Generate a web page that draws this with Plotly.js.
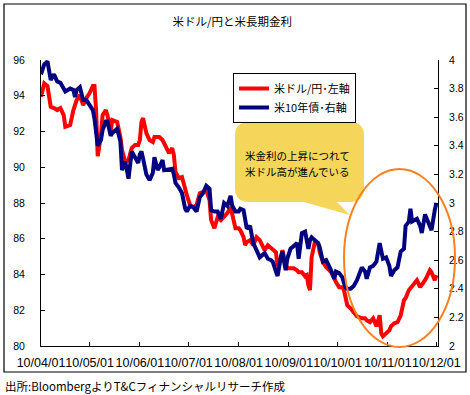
<!DOCTYPE html>
<html>
<head>
<meta charset="utf-8">
<script src="https://cdn.plot.ly/plotly-3.0.1.min.js"></script>
<style>
html,body{margin:0;padding:0;background:#fff;}
#chart{width:470px;height:395px;}
</style>
</head>
<body>
<div id="chart"></div>
<script>
// ---- data ----
const dates = [
 "2010-04-01","2010-04-03","2010-04-05","2010-04-07","2010-04-09","2010-04-11","2010-04-13","2010-04-15","2010-04-16","2010-04-19",
 "2010-04-21","2010-04-22","2010-04-23","2010-04-25","2010-04-27","2010-04-29","2010-05-01","2010-05-03","2010-05-04","2010-05-05",
 "2010-05-06","2010-05-08","2010-05-09","2010-05-11","2010-05-12","2010-05-14","2010-05-15","2010-05-18","2010-05-20","2010-05-21",
 "2010-05-23","2010-05-25","2010-05-27","2010-05-29","2010-05-31","2010-06-01","2010-06-02","2010-06-03","2010-06-05","2010-06-07",
 "2010-06-09","2010-06-10","2010-06-12","2010-06-13","2010-06-15","2010-06-16","2010-06-19","2010-06-21","2010-06-22","2010-06-23",
 "2010-06-25","2010-06-27","2010-06-29","2010-06-30","2010-07-02","2010-07-04","2010-07-06","2010-07-08","2010-07-10","2010-07-12",
 "2010-07-14","2010-07-15","2010-07-17","2010-07-19","2010-07-21","2010-07-23","2010-07-25","2010-07-27","2010-07-28","2010-07-30",
 "2010-08-01","2010-08-02","2010-08-04","2010-08-05","2010-08-06","2010-08-08","2010-08-10","2010-08-12","2010-08-14","2010-08-17",
 "2010-08-19","2010-08-21","2010-08-22","2010-08-24","2010-08-25","2010-08-27","2010-08-28","2010-08-29","2010-08-30","2010-08-31",
 "2010-09-02","2010-09-04","2010-09-06","2010-09-07","2010-09-08","2010-09-09","2010-09-11","2010-09-12","2010-09-13","2010-09-14",
 "2010-09-15","2010-09-17","2010-09-19","2010-09-20","2010-09-22","2010-09-24","2010-09-26","2010-09-27","2010-09-29","2010-09-30",
 "2010-10-02","2010-10-04","2010-10-05","2010-10-06","2010-10-07","2010-10-09","2010-10-11","2010-10-13","2010-10-16","2010-10-18",
 "2010-10-19","2010-10-21","2010-10-23","2010-10-25","2010-10-27","2010-10-28","2010-10-29","2010-10-31","2010-11-02","2010-11-03",
 "2010-11-05","2010-11-07","2010-11-09","2010-11-11","2010-11-12","2010-11-14","2010-11-15","2010-11-16","2010-11-19","2010-11-21",
 "2010-11-22","2010-11-24","2010-11-25","2010-11-27","2010-11-28","2010-11-30","2010-12-01"
];
const usdjpy = [
 93.94,94.69,94.54,93.38,93.31,93.20,93.31,92.92,92.26,92.36,
 93.20,93.48,93.76,94.04,93.48,93.87,94.15,94.54,94.54,93.20,
 90.62,91.80,92.92,93.20,92.92,92.02,92.64,92.53,91.69,90.96,
 90.30,90.40,91.07,91.24,91.24,91.52,92.53,92.75,91.91,91.52,
 91.41,91.69,91.69,91.69,91.52,91.35,90.79,91.07,90.68,89.74,
 89.39,89.45,88.72,88.44,87.88,87.77,87.88,88.55,88.62,88.72,
 88.16,87.04,86.59,87.21,87.04,87.21,87.43,87.77,87.32,86.59,
 86.59,86.48,86.09,85.64,85.81,85.92,85.64,86.09,85.92,85.36,
 85.64,85.47,85.36,85.25,84.46,84.91,85.36,84.80,84.57,84.35,
 84.35,84.35,84.24,84.13,84.13,84.13,83.90,83.96,83.40,83.12,
 84.97,85.81,85.75,85.25,84.69,84.41,84.24,84.13,83.79,83.57,
 83.29,83.29,83.12,82.67,82.28,82.11,81.89,81.66,81.55,81.55,
 81.44,81.33,81.55,81.10,81.72,80.71,80.54,80.71,80.88,81.10,
 81.27,81.33,81.72,82.56,82.67,83.12,83.23,83.40,83.68,83.29,
 83.40,83.68,83.85,84.24,84.13,83.68,83.96
];
const us10y = [
 3.90,3.97,3.99,3.86,3.90,3.85,3.84,3.79,3.78,3.80,
 3.79,3.74,3.79,3.81,3.72,3.72,3.69,3.65,3.59,3.47,
 3.40,3.44,3.51,3.57,3.57,3.47,3.49,3.52,3.43,3.23,
 3.29,3.17,3.36,3.32,3.28,3.34,3.36,3.31,3.20,3.16,
 3.21,3.32,3.23,3.25,3.30,3.23,3.24,3.24,3.20,3.14,
 3.11,3.07,2.96,2.94,2.98,2.97,2.94,3.04,3.07,3.12,
 3.10,2.95,2.94,2.94,2.89,3.00,2.98,3.05,2.98,2.94,
 2.94,2.96,2.95,2.90,2.82,2.84,2.72,2.67,2.62,2.65,
 2.61,2.60,2.59,2.52,2.49,2.62,2.66,2.59,2.53,2.61,
 2.68,2.70,2.72,2.61,2.69,2.79,2.80,2.72,2.68,2.74,
 2.76,2.74,2.72,2.69,2.59,2.60,2.56,2.53,2.47,2.52,
 2.51,2.48,2.44,2.41,2.40,2.40,2.42,2.46,2.55,2.52,
 2.47,2.55,2.56,2.59,2.72,2.67,2.61,2.62,2.56,2.49,
 2.53,2.55,2.66,2.68,2.84,2.87,2.96,2.87,2.89,2.84,
 2.79,2.92,2.89,2.84,2.81,2.95,3.00
];
const seriesNames = ["米ドル/円･左軸", "米10年債･右軸"];
const titleText = "米ドル/円と米長期金利";
const calloutLines = ["米金利の上昇につれて", "米ドル高が進んでいる"];
const sourceText = "出所:BloombergよりT&Cフィナンシャルリサーチ作成";

// ---- layout geometry ----
const W = 470, H = 395;
const M = {l: 41, r: 32, t: 60, b: 49};
const L = M.l, R = W - M.r, T = M.t, B = H - M.b;
const px = X => (X - L) / (R - L);
const py = Y => (B - Y) / (B - T);
const P = (X, Y) => px(X).toFixed(4) + "," + py(Y).toFixed(4);

// callout bubble path (rounded rectangle with tail)
const bx0 = 235, bx1 = 364, by0 = 122, by1 = 202, r = 14;
const bubble = "M" + P(bx0 + r, by0) + " L" + P(bx1 - r, by0) +
  " Q" + P(bx1, by0) + " " + P(bx1, by0 + r) +
  " L" + P(bx1, by1 - r) + " Q" + P(bx1, by1) + " " + P(bx1 - r, by1) +
  " L" + P(337, by1) + " L" + P(350, 215) + " L" + P(304, by1) +
  " L" + P(bx0 + r, by1) + " Q" + P(bx0, by1) + " " + P(bx0, by1 - r) +
  " L" + P(bx0, by0 + r) + " Q" + P(bx0, by0) + " " + P(bx0 + r, by0) + " Z";

const jp = '"Noto Sans CJK JP", "Noto Sans", sans-serif';
const num = '"Liberation Sans", Arial, sans-serif';
const numNarrow = '"Liberation Sans Narrow", "Liberation Sans", Arial, sans-serif';

const traces = [
  {x: dates, y: usdjpy, name: seriesNames[0], type: "scatter", mode: "lines",
   line: {color: "#FF0000", width: 4}, yaxis: "y"},
  {x: dates, y: us10y, name: seriesNames[1], type: "scatter", mode: "lines",
   line: {color: "#000080", width: 4}, yaxis: "y2"}
];

const layout = {
  width: W, height: H,
  margin: M,
  paper_bgcolor: "#fff", plot_bgcolor: "#fff",
  showlegend: true,
  title: {text: titleText, font: {family: jp, size: 11.5, color: "#000"},
          x: 0.494, xanchor: "center", y: 1 - 22 / H, yanchor: "middle", yref: "container"},
  xaxis: {
    type: "date", range: ["2010-04-01", "2010-12-02"],
    tick0: "2010-04-01", dtick: "M1", tickformat: "%y/%m/%d", tickangle: 0,
    ticks: "inside", ticklen: 4, tickcolor: "#000", tickwidth: 1,
    showline: true, linecolor: "#000", linewidth: 1,
    showgrid: false, zeroline: false,
    ticklabelstandoff: 5,
    tickfont: {family: num, size: 12.5, color: "#000"}
  },
  yaxis: {
    range: [80, 96], dtick: 2, tick0: 80,
    ticks: "inside", ticklen: 4, tickcolor: "#000",
    showline: true, linecolor: "#000", linewidth: 1,
    showgrid: false, zeroline: false,
    ticklabelstandoff: 13,
    tickfont: {family: numNarrow, size: 10.5, color: "#000"}
  },
  yaxis2: {
    range: [2, 4], dtick: 0.2, tick0: 2,
    overlaying: "y", side: "right",
    ticks: "inside", ticklen: 4, tickcolor: "#000",
    showline: true, linecolor: "#000", linewidth: 1,
    showgrid: false, zeroline: false,
    ticklabelstandoff: 8,
    tickfont: {family: numNarrow, size: 10.5, color: "#000"}
  },
  legend: {
    x: px(233), y: py(73), xanchor: "left", yanchor: "top",
    bgcolor: "#fff", bordercolor: "#000", borderwidth: 1,
    font: {family: jp, size: 11, color: "#000"},
    tracegroupgap: 0, itemwidth: 30, entrywidthmode: "pixels"
  },
  shapes: [
    {type: "rect", xref: "paper", yref: "paper",
     x0: px(4), x1: px(466), y0: py(372), y1: py(4),
     line: {color: "#000", width: 1.2}, fillcolor: "rgba(0,0,0,0)", layer: "below"},
    {type: "path", xref: "paper", yref: "paper", path: bubble,
     fillcolor: "#F5D65A", line: {width: 0}},
    {type: "circle", xref: "paper", yref: "paper",
     x0: px(344), x1: px(455), y0: py(347), y1: py(169),
     line: {color: "#FF7F1E", width: 2}, fillcolor: "rgba(0,0,0,0)"}
  ],
  annotations: [
    {text: calloutLines[0], xref: "paper", yref: "paper", x: px(297), y: py(155),
     xanchor: "center", yanchor: "middle", showarrow: false, borderpad: 0,
     font: {family: jp, size: 10.5, color: "#000"}},
    {text: calloutLines[1], xref: "paper", yref: "paper", x: px(297), y: py(171.5),
     xanchor: "center", yanchor: "middle", showarrow: false, borderpad: 0,
     font: {family: jp, size: 10.5, color: "#000"}},
    {text: sourceText, xref: "paper", yref: "paper", x: px(3), y: py(386),
     xanchor: "left", yanchor: "middle", showarrow: false,
     font: {family: jp, size: 11.5, color: "#000"}}
  ]
};

Plotly.newPlot("chart", traces, layout, {staticPlot: true, displayModeBar: false});
</script>
</body>
</html>
